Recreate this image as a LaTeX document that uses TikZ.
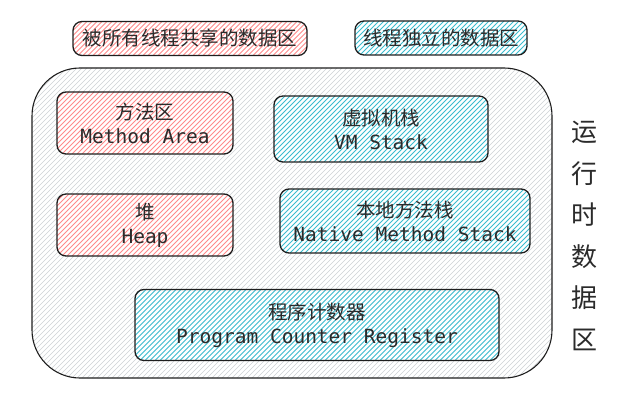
\documentclass[tikz,border=0pt]{standalone}
\usepackage{fontspec}
\setmonofont{DejaVu Sans Mono}
\newfontfamily\cjk{Noto Sans CJK SC}
\definecolor{ink}{HTML}{2B2B2B}
\definecolor{edge}{HTML}{1E1E1E}
\definecolor{sharedhatch}{HTML}{FF8A8A}
\definecolor{threadhatch}{HTML}{3BBCCF}
\definecolor{outerhatch}{HTML}{CDD1D5}
\tikzset{
  hatched/.style 2 args={fill=white, path picture={
    \foreach \i in {-340,-335,...,540}
      \draw[#1, line width=#2] (path picture bounding box.south west) ++(\i,0) -- ++(350,-350);}},
  area/.style={draw=edge, line width=1.3pt, rounded corners=9pt, align=center,
    inner sep=0pt, text=ink, font=\fontsize{19.5}{24}\selectfont},
  sharedarea/.style={area, hatched={sharedhatch}{0.85pt}},
  threadarea/.style={area, hatched={threadhatch}{0.85pt}}
}
\begin{document}
\begin{tikzpicture}[x=1pt,y=-1pt]
\useasboundingbox (0,0) rectangle (623,414);
% legend
\node[sharedarea, minimum width=234, minimum height=34] (sharedkey) at (190,38.5) {\cjk 被所有线程共享的数据区};
\node[threadarea, minimum width=172, minimum height=34] (threadkey) at (441,38) {\cjk 线程独立的数据区};
% runtime data area
\node[draw=edge, line width=1.1pt, rounded corners=48pt, minimum width=520, minimum height=310,
  hatched={outerhatch}{0.6pt}] (runtime) at (292,223) {};
\node[text=ink, align=center, font=\fontsize{26}{41.6}\selectfont\cjk] (title) at (584,236)
  {运\\行\\时\\数\\据\\区};
% shared areas
\node[sharedarea, minimum width=176, minimum height=62] (method) at (145,123) {{\cjk 方法区}\\\texttt{Method Area}};
\node[sharedarea, minimum width=176, minimum height=62] (heap) at (145,225) {{\cjk 堆}\\\texttt{Heap}};
% per-thread areas
\node[threadarea, minimum width=214, minimum height=66] (vmstack) at (381,129) {{\cjk 虚拟机栈}\\\texttt{VM Stack}};
\node[threadarea, minimum width=250, minimum height=64] (native) at (405,221) {{\cjk 本地方法栈}\\\texttt{Native Method Stack}};
\node[threadarea, minimum width=364, minimum height=71] (counter) at (317,325) {{\cjk 程序计数器}\\\texttt{Program Counter Register}};
\end{tikzpicture}
\end{document}
